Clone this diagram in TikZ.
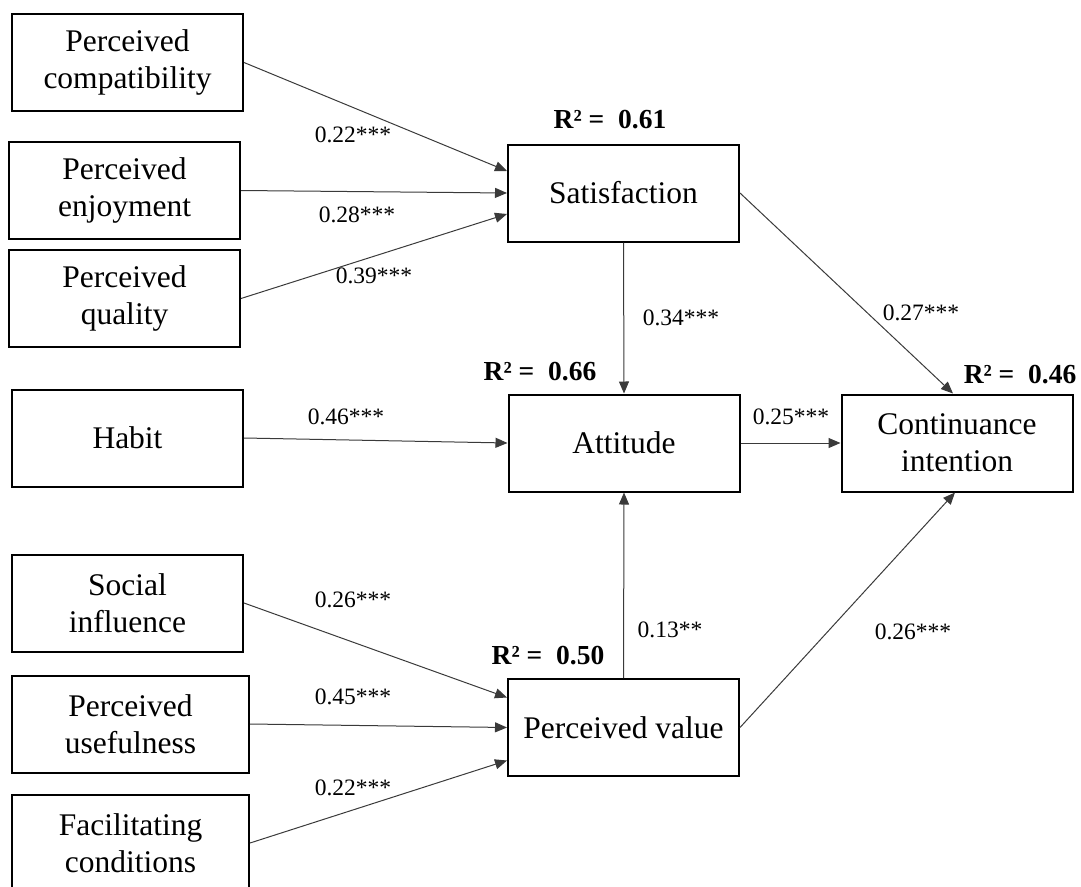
\documentclass[tikz,border=0pt]{standalone}
\usepackage{fontspec}
\setmainfont{Liberation Serif}
\usetikzlibrary{arrows.meta}
\definecolor{linkgray}{HTML}{3A3A3A}

\tikzset{
  construct/.style={draw=black, line width=2pt, fill=white,
                    minimum width=231pt, minimum height=97pt,
                    inner sep=0pt, align=center,
                    font=\fontsize{31.5}{37}\selectfont},
  link/.style={draw=linkgray, line width=1pt,
               -{Triangle[length=12pt,width=10pt]}},
  coef/.style={inner sep=0pt, font=\fontsize{23.5}{27}\selectfont},
  rsq/.style={inner sep=0pt, font=\bfseries\fontsize{27.5}{31}\selectfont},
}

\begin{document}
\begin{tikzpicture}[x=1pt, y=-1pt]
  \useasboundingbox (0,0) rectangle (1081,886);
  \clip (0,0) rectangle (1081,886);

  % antecedents
  \node[construct] (comp)   at (127.5, 62.5) {Perceived\\compatibility};
  \node[construct] (enjoy)  at (124.5,190.5) {Perceived\\enjoyment};
  \node[construct] (qual)   at (124.5,298.5) {Perceived\\quality};
  \node[construct] (habit)  at (127.5,438)   {Habit};
  \node[construct] (social) at (127.5,603)   {Social\\influence};
  \node[construct, minimum width=237pt] (useful) at (130.5,724) {Perceived\\usefulness};
  \node[construct, minimum width=237pt] (facil)  at (130.5,843) {Facilitating\\conditions};

  % mediators and outcome
  \node[construct] (sat)  at (623.5,193)   {Satisfaction};
  \node[construct] (att)  at (624,443)     {Attitude};
  \node[construct] (val)  at (623.5,727.5) {Perceived value};
  \node[construct] (cont) at (957,443)     {Continuance\\intention};

  % R squared
  \node[rsq] (rsat)  at (610,120)  {R² =\enspace 0.61};
  \node[rsq] (ratt)  at (540,372)  {R² =\enspace 0.66};
  \node[rsq] (rcont) at (1020,375) {R² =\enspace 0.46};
  \node[rsq] (rval)  at (548,656)  {R² =\enspace 0.50};

  % paths
  \draw[link] (comp.east)   -- ([yshift=22pt]sat.west);
  \draw[link] (enjoy.east)  -- (sat.west);
  \draw[link] (qual.east)   -- ([yshift=-21pt]sat.west);
  \draw[link] (habit.east)  -- (att.west);
  \draw[link] (sat.south)   -- (att.north);
  \draw[link] (sat.east)    -- ([xshift=-4pt]cont.north);
  \draw[link] (att.east)    -- (cont.west);
  \draw[link] (val.north)   -- (att.south);
  \draw[link] (val.east)    -- ([xshift=-2pt]cont.south);
  \draw[link] (social.east) -- ([yshift=30pt]val.west);
  \draw[link] (useful.east) -- (val.west);
  \draw[link] (facil.east)  -- ([yshift=-33pt]val.west);

  % coefficients
  \node[coef] (c1)  at (353,135) {0.22***};
  \node[coef] (c2)  at (357,215) {0.28***};
  \node[coef] (c3)  at (374,276) {0.39***};
  \node[coef] (c4)  at (346,417) {0.46***};
  \node[coef] (c5)  at (681,318) {0.34***};
  \node[coef] (c6)  at (921,313) {0.27***};
  \node[coef] (c7)  at (791,417) {0.25***};
  \node[coef] (c8)  at (670,630) {0.13**};
  \node[coef] (c9)  at (913,632) {0.26***};
  \node[coef] (c10) at (353,600) {0.26***};
  \node[coef] (c11) at (353,697) {0.45***};
  \node[coef] (c12) at (353,788) {0.22***};
\end{tikzpicture}
\end{document}
